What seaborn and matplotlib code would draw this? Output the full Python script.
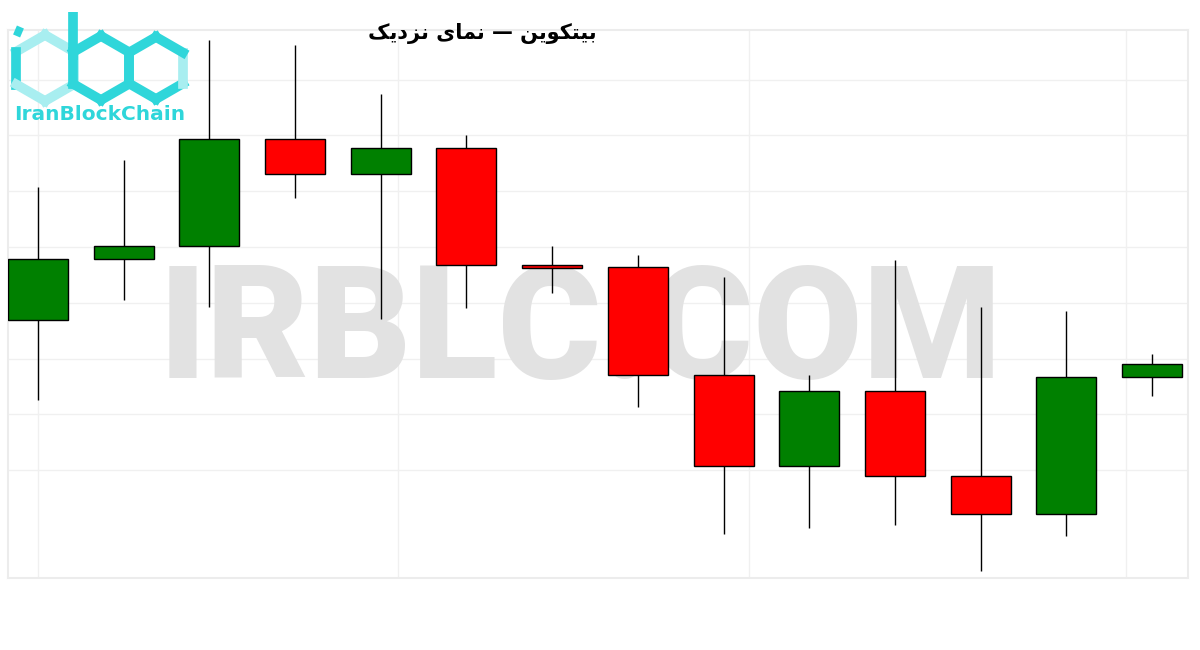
import matplotlib
matplotlib.use("Agg")
import matplotlib.pyplot as plt
import seaborn as sns
import numpy as np

# candle data (arbitrary price units)
opens = [280, 341, 354, 461, 426, 452, 335, 333, 225, 134, 209, 124, 86, 223]
highs = [413, 440, 560, 555, 506, 465, 354, 345, 323, 225, 340, 293, 289, 246]
lows = [200, 300, 293, 402, 281, 292, 307, 193, 66, 72, 75, 29, 64, 204]
closes = [341, 354, 461, 426, 452, 335, 332, 225, 134, 209, 124, 86, 223, 236]
grid_levels = [130, 186, 241, 297, 353, 409, 465, 520]

# title in Persian, written with presentation forms and reversed for LTR drawing
word1 = "\uFE91\uFBFF\uFE98\uFB91\uFEEE\uFBFE\uFEE6"
word2 = "\uFEE7\uFEE4\uFE8E\uFBFC"
word3 = "\uFEE7\uFEB0\uFEA9\uFBFE\uFB8F"
title_txt = (word1 + " \u2014 " + word2 + " " + word3)[::-1]

sns.set_theme(style="white")
plt.rcParams['font.family'] = ['DejaVu Sans']

W, H = 1200, 650
fig = plt.figure(figsize=(12, 6.5), dpi=100)
ax = fig.add_axes([8 / W, 1 - 578 / H, 1180 / W, 548 / H])

x = np.arange(len(opens))
opens_a = np.array(opens)
closes_a = np.array(closes)
colors = np.where(closes_a >= opens_a, "#008000", "#ff0000")

ax.vlines(x, lows, highs, color="black", linewidth=1, zorder=3)
ax.bar(x, closes_a - opens_a, bottom=opens_a, width=0.7, color=colors,
       edgecolor="black", linewidth=1, zorder=4)

ax.set_xlim(-0.35, 13.42)
ax.set_ylim(22, 570)
ax.set_yticks(grid_levels)
ax.set_xticks([0, 4.2, 8.3, 12.7])
ax.tick_params(left=False, bottom=False, labelleft=False, labelbottom=False)
ax.grid(True, color="#f0f0f0", linewidth=1)
for s in ax.spines.values():
    s.set_color("#ececec")
    s.set_linewidth(1.5)

# watermark, behind the candles
ax.text((580 - 8) / 1180, 1 - (335 - 30) / 548, "IRBLC.COM",
        transform=ax.transAxes, fontsize=114, fontweight="black",
        family=["Roboto", "DejaVu Sans"], color="#e2e2e2",
        ha="center", va="center", zorder=1)

# title
fig.text(482 / W, 1 - 34 / H, title_txt, fontsize=15, fontweight="bold",
         color="black", ha="center", va="center")

# logo
cyan = "#2fd6da"
pale = "#a8eef0"
lax = fig.add_axes([0, 1 - 130 / H, 200 / W, 130 / H])
lax.set_xlim(0, 200)
lax.set_ylim(130, 0)
lax.axis("off")


def hexagon(cx, cy, r, edge_colors):
    ang = np.deg2rad([90, 150, 210, 270, 330, 30, 90])
    px = cx + r * np.cos(ang)
    py = cy - r * np.sin(ang)
    for i in range(6):
        lax.plot(px[i:i + 2], py[i:i + 2], color=edge_colors[i],
                 linewidth=7, solid_capstyle="projecting")


# edges: top-left, left, bottom-left, bottom-right, right, top-right
hexagon(45, 68, 33, [pale, cyan, pale, pale, pale, pale])
hexagon(101, 68, 32, [cyan] * 6)
hexagon(156, 68, 31, [cyan, cyan, cyan, cyan, pale, cyan])
lax.plot([73, 73], [12, 60], color=cyan, linewidth=7, solid_capstyle="butt")
lax.plot([15, 22], [30, 33], color=cyan, linewidth=7, solid_capstyle="butt")
lax.text(100, 115, "IranBlockChain", fontsize=14.5, fontweight="bold",
         color=cyan, ha="center", va="center")

fig.savefig("out.png", dpi=100)
